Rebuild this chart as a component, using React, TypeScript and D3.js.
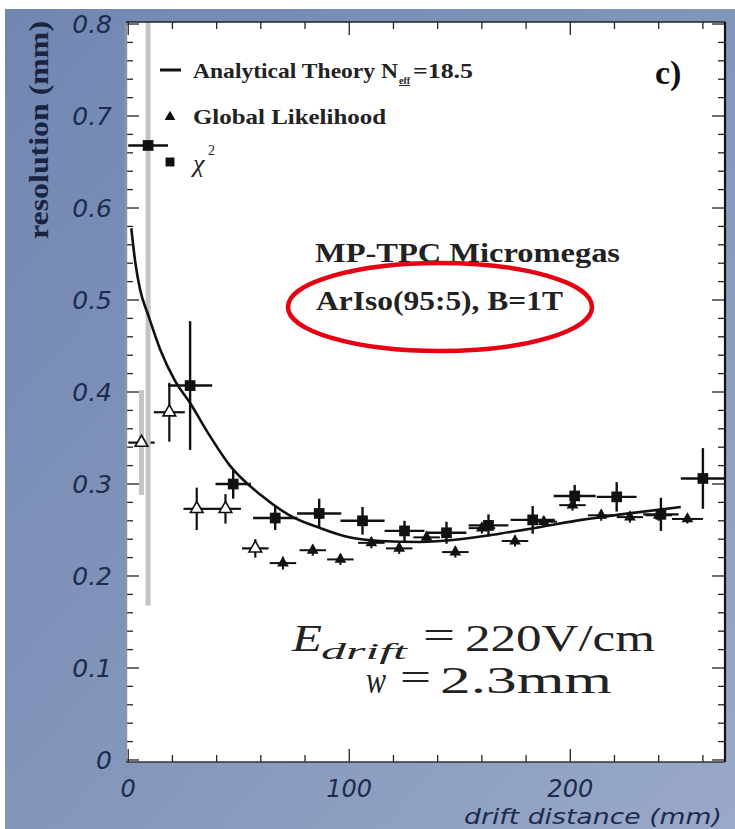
import React from "react";
import * as d3 from "d3";

// ---- data ----
const theoryX = [1.4, 3.2, 5.4, 9, 14.5, 21, 28, 37, 46, 60, 73, 87, 100, 114, 132, 150, 168, 186, 205, 223, 250];
const theoryY = [0.578, 0.541, 0.511, 0.484, 0.446, 0.413, 0.388, 0.352, 0.32, 0.288, 0.266, 0.252, 0.242, 0.238, 0.237, 0.24, 0.246, 0.253, 0.261, 0.267, 0.275];

const chi2X = [9, 28, 47.5, 66.5, 86.4, 106, 125, 144, 163, 183, 202, 221, 241, 260];
const chi2Y = [0.668, 0.407, 0.3, 0.263, 0.268, 0.26, 0.249, 0.247, 0.255, 0.261, 0.287, 0.286, 0.267, 0.306];
const chi2XErr = [9, 10, 8, 10, 10, 10, 9, 9, 9, 10, 9.5, 9, 8, 10];
const chi2YErr = [0.5, 0.07, 0.016, 0.013, 0.016, 0.015, 0.011, 0.012, 0.012, 0.015, 0.012, 0.016, 0.018, 0.033];

const likeX = [70, 83.5, 96, 110, 122.6, 135, 148, 160, 175, 188, 201, 214, 227, 240, 253];
const likeY = [0.214, 0.228, 0.218, 0.236, 0.23, 0.242, 0.226, 0.252, 0.238, 0.259, 0.277, 0.266, 0.264, 0.266, 0.262];
const likeXErr = [6, 6, 6, 6, 6, 6, 6, 6, 6, 6, 6, 6, 6, 6, 7];
const likeYErr = [0.007, 0.006, 0.006, 0.006, 0.006, 0.006, 0.006, 0.006, 0.006, 0.006, 0.006, 0.006, 0.006, 0.006, 0.005];

const likeOpenX = [6, 18.6, 31, 44, 57.5];
const likeOpenY = [0.345, 0.378, 0.273, 0.273, 0.23];
const likeOpenXErr = [6, 7, 6, 7, 6];
const likeOpenYErr = [0.057, 0.032, 0.023, 0.016, 0.01];

const xMajorTicks = [0, 100, 200];
const xTickLabels = ["0", "100", "200"];
const xMinorTicks = [20, 40, 60, 80, 120, 140, 160, 180, 220, 240, 260];
const yMajorTicks = [0, 0.1, 0.2, 0.3, 0.4, 0.5, 0.6, 0.7, 0.8];
const yTickLabels = ["0", "0.1", "0.2", "0.3", "0.4", "0.5", "0.6", "0.7", "0.8"];
const yMinorTicks = d3.range(0, 0.8, 0.02).filter((v) => Math.abs(v * 10 - Math.round(v * 10)) > 0.01);

const legendLabels = ["Analytical Theory N", "eff", "=18.5", "Global Likelihood", "χ", "2"];

const W = 735;
const H = 829;
const L = 126, R = 725, T = 22, B = 762;

export default function App() {
  const x = d3.scaleLinear().domain([-1, 270]).range([L, R]);
  const y = d3.scaleLinear().domain([-0.0022, 0.8022]).range([B, T]);

  const line = d3
    .line<number>()
    .x((_, i) => x(theoryX[i]))
    .y((d) => y(d))
    .curve(d3.curveMonotoneX);

  const sq = d3.symbol(d3.symbolSquare, 115)()!;
  const tri = d3.symbol(d3.symbolTriangle, 60)()!;
  const triOpen = d3.symbol(d3.symbolTriangle, 70)()!;
  const sqLeg = d3.symbol(d3.symbolSquare, 80)()!;
  const triLeg = d3.symbol(d3.symbolTriangle, 50)()!;

  const labColor = "#1d2b4e";
  const tickFont = "DejaVu Sans, sans-serif";
  const serif = "Liberation Serif, Times New Roman, Times, serif";

  const errBars = (
    xs: number[], ys: number[], xe: number[], ye: number[], key: string, grayFirst: boolean, sw: number
  ) =>
    xs.map((xv, i) => (
      <g key={key + i}>
        <line x1={x(xv - xe[i])} x2={x(xv + xe[i])} y1={y(ys[i])} y2={y(ys[i])} stroke="#111" strokeWidth={sw} />
        <line
          x1={x(xv)} x2={x(xv)}
          y1={y(ys[i] - ye[i])} y2={y(ys[i] + ye[i])}
          stroke={grayFirst && i === 0 ? "#c4c4c4" : "#111"}
          strokeWidth={grayFirst && i === 0 ? 5 : sw}
        />
      </g>
    ));

  return (
    <svg width={W} height={H} style={{ position: "absolute", left: 0, top: 0 }} xmlns="http://www.w3.org/2000/svg">
      <defs>
        <linearGradient id="bg" x1="0" y1="0" x2="1" y2="1">
          <stop offset="0" stopColor="#7187b2" />
          <stop offset="0.5" stopColor="#8295bb" />
          <stop offset="1" stopColor="#9aa9c7" />
        </linearGradient>
        <clipPath id="frame">
          <rect x={L} y={T} width={R - L} height={B - T} />
        </clipPath>
      </defs>
      <rect x={0} y={0} width={W} height={H} fill="#ffffff" />
      <rect x={5} y={9} width={W - 5} height={H - 9} fill="url(#bg)" />
      <rect x={L} y={T} width={R - L} height={B - T} fill="#ffffff" />

      {/* ticks */}
      <g stroke="#222" strokeWidth={1.3}>
        {yMajorTicks.map((v) => (
          <g key={"ym" + v}>
            <line x1={L} x2={L + 13} y1={y(v)} y2={y(v)} />
            <line x1={R} x2={R - 13} y1={y(v)} y2={y(v)} />
          </g>
        ))}
        {yMinorTicks.map((v) => (
          <g key={"yn" + v}>
            <line x1={L} x2={L + 7} y1={y(v)} y2={y(v)} />
            <line x1={R} x2={R - 7} y1={y(v)} y2={y(v)} />
          </g>
        ))}
        {xMajorTicks.map((v) => (
          <g key={"xm" + v}>
            <line x1={x(v)} x2={x(v)} y1={B} y2={B - 13} />
            <line x1={x(v)} x2={x(v)} y1={T} y2={T + 13} />
          </g>
        ))}
        {xMinorTicks.map((v) => (
          <g key={"xn" + v}>
            <line x1={x(v)} x2={x(v)} y1={B} y2={B - 7} />
            <line x1={x(v)} x2={x(v)} y1={T} y2={T + 7} />
          </g>
        ))}
      </g>

      {/* data */}
      <g clipPath="url(#frame)">
        {errBars(likeOpenX, likeOpenY, likeOpenXErr, likeOpenYErr, "lo", true, 2.2)}
        {errBars(chi2X, chi2Y, chi2XErr, chi2YErr, "c", true, 2.4)}
        {errBars(likeX, likeY, likeXErr, likeYErr, "l", false, 2)}
        <path d={line(theoryY)!} fill="none" stroke="#111" strokeWidth={2.6} />
        {likeOpenX.map((xv, i) => (
          <path key={"lom" + i} d={triOpen} transform={`translate(${x(xv)},${y(likeOpenY[i])})`} fill="#fff" stroke="#111" strokeWidth={1.6} />
        ))}
        {likeX.map((xv, i) => (
          <path key={"lm" + i} d={tri} transform={`translate(${x(xv)},${y(likeY[i])})`} fill="#111" />
        ))}
        {chi2X.map((xv, i) => (
          <path key={"cm" + i} d={sq} transform={`translate(${x(xv)},${y(chi2Y[i])})`} fill="#111" />
        ))}
      </g>

      {/* frame */}
      <line x1={L} x2={L} y1={T} y2={B} stroke="#8c94a8" strokeWidth={2.5} />
      <line x1={L} x2={R} y1={T} y2={T} stroke="#222" strokeWidth={1.5} />
      <line x1={R} x2={R} y1={T} y2={B} stroke="#111" strokeWidth={2.2} />
      <line x1={L} x2={R} y1={B} y2={B} stroke="#333" strokeWidth={1.5} />

      {/* tick labels */}
      {yMajorTicks.map((v, i) => (
        <text key={"yl" + i} x={112} y={y(v) + 9} textAnchor="end" fontFamily={tickFont} fontStyle="italic" fontSize={25} fill={labColor}>
          {yTickLabels[i]}
        </text>
      ))}
      {xMajorTicks.map((v, i) => (
        <text key={"xl" + i} x={x(v)} y={797} textAnchor="middle" fontFamily={tickFont} fontStyle="italic" fontSize={24} fill={labColor}>
          {xTickLabels[i]}
        </text>
      ))}
      <text x={722} y={824} textAnchor="end" fontFamily={tickFont} fontStyle="italic" fontSize={21} fill={labColor} textLength={258} lengthAdjust="spacingAndGlyphs">
        drift distance (mm)
      </text>
      <text transform="translate(48,130) rotate(-90)" textAnchor="middle" fontFamily={serif} fontWeight="bold" fontSize={27} fill="#1a2440" textLength={218} lengthAdjust="spacingAndGlyphs">
        resolution (mm)
      </text>

      {/* legend */}
      <line x1={160} x2={181} y1={70} y2={70} stroke="#111" strokeWidth={3} />
      <text x={193} y={78} fontFamily={serif} fontWeight="bold" fontSize={21} fill="#222" textLength={205} lengthAdjust="spacingAndGlyphs">
        {legendLabels[0]}
      </text>
      <text x={399} y={84} fontFamily={serif} fontWeight="bold" fontSize={10} fill="#222" textDecoration="underline">
        {legendLabels[1]}
      </text>
      <text x={413} y={78} fontFamily={serif} fontWeight="bold" fontSize={21} fill="#222" textLength={60} lengthAdjust="spacingAndGlyphs">
        {legendLabels[2]}
      </text>
      <path d={triLeg} transform="translate(170,117)" fill="#111" />
      <text x={193} y={124} fontFamily={serif} fontWeight="bold" fontSize={21} fill="#222" textLength={193} lengthAdjust="spacingAndGlyphs">
        {legendLabels[3]}
      </text>
      <path d={sqLeg} transform="translate(170,162)" fill="#111" />
      <text x={193} y={172} fontFamily={serif} fontStyle="italic" fontSize={26} fill="#222">
        {legendLabels[4]}
      </text>
      <text x={208} y={155} fontFamily={serif} fontSize={14} fill="#222">
        {legendLabels[5]}
      </text>

      <text x={655} y={84} fontFamily={serif} fontWeight="bold" fontSize={34} fill="#111">c)</text>

      {/* annotation */}
      <text x={315} y={262} fontFamily={serif} fontWeight="bold" fontSize={27} fill="#222" textLength={305} lengthAdjust="spacingAndGlyphs">
        MP-TPC Micromegas
      </text>
      <text x={316} y={310} fontFamily={serif} fontWeight="bold" fontSize={27} fill="#222" textLength={247} lengthAdjust="spacingAndGlyphs">
        ArIso(95:5), B=1T
      </text>
      <ellipse cx={440} cy={307} rx={152} ry={44} fill="none" stroke="#e60012" strokeWidth={4.5} />

      <text x={292} y={651} fontFamily={serif} fontStyle="italic" fontSize={38} fill="#222" textLength={30} lengthAdjust="spacingAndGlyphs">E</text>
      <text x={321} y={659} fontFamily={serif} fontStyle="italic" fontSize={23} fill="#222" textLength={86} lengthAdjust="spacingAndGlyphs">drift</text>
      <text x={423} y={648} fontFamily={serif} fontSize={37} fill="#222" textLength={32} lengthAdjust="spacingAndGlyphs">=</text>
      <text x={465} y={651} fontFamily={serif} fontSize={38} fill="#222" textLength={190} lengthAdjust="spacingAndGlyphs">220V/cm</text>
      <text x={366} y={693} fontFamily={serif} fontStyle="italic" fontSize={37} fill="#222" textLength={20} lengthAdjust="spacingAndGlyphs">w</text>
      <text x={400} y={690} fontFamily={serif} fontSize={37} fill="#222" textLength={31} lengthAdjust="spacingAndGlyphs">=</text>
      <text x={440} y={693} fontFamily={serif} fontSize={37} fill="#222" textLength={172} lengthAdjust="spacingAndGlyphs">2.3mm</text>
    </svg>
  );
}
